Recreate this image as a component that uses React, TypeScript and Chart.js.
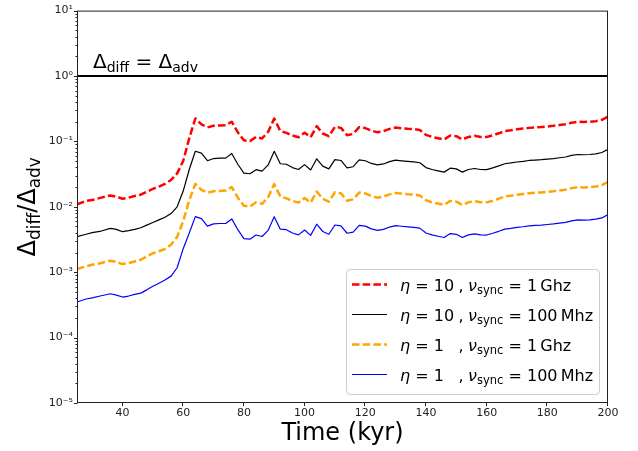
import React, { useEffect, useRef } from 'react';
import { Chart, registerables } from 'chart.js';

Chart.register(...registerables);

const FONT = '"DejaVu Sans", "Liberation Sans", sans-serif';

// Time (kyr)
const times = [
  25, 28, 30, 33, 36, 38, 40, 42, 44, 46, 48, 50, 52, 54, 56, 58, 60, 62,
  64, 66, 68, 70, 72, 74, 76, 78, 80, 82, 84, 86, 88, 90, 92, 94, 96, 98, 100,
  102, 104, 106, 108, 110, 112, 114, 116, 118, 120, 122, 124, 126, 128, 130,
  132, 134, 136, 138, 140, 142, 144, 146, 148, 150, 152, 154, 156, 158, 160,
  162, 164, 166, 168, 170, 172, 174, 176, 178, 180, 182, 184, 186, 188, 190,
  192, 194, 196, 198, 200,
];

// eta = 10, nu_sync = 1 GHz
const eta10Ghz1 = [
  0.0109, 0.0123, 0.0127, 0.0138, 0.0149, 0.0143, 0.0133, 0.0138, 0.0146, 0.0153, 0.0170, 0.0188, 0.0204, 0.0224, 0.0257, 0.0324, 0.0501, 0.112,
  0.224, 0.182, 0.164, 0.173, 0.175, 0.177, 0.200, 0.138, 0.104, 0.101, 0.117, 0.111, 0.140, 0.223, 0.144, 0.135, 0.123, 0.116, 0.136,
  0.116, 0.171, 0.132, 0.120, 0.167, 0.161, 0.124, 0.130, 0.165, 0.160, 0.146, 0.138, 0.143, 0.155, 0.163,
  0.159, 0.156, 0.154, 0.149, 0.126, 0.117, 0.112, 0.107, 0.123, 0.120, 0.107, 0.117, 0.122, 0.117, 0.117,
  0.124, 0.133, 0.144, 0.148, 0.153, 0.157, 0.161, 0.164, 0.166, 0.169, 0.173, 0.178, 0.183, 0.193, 0.200,
  0.198, 0.200, 0.204, 0.214, 0.240,
];

// eta = 10, nu_sync = 100 MHz
const eta10Mhz100 = [
  0.00349, 0.00380, 0.00402, 0.00426, 0.00467, 0.00451, 0.00416, 0.00431, 0.00452, 0.00479, 0.00525, 0.00575, 0.00631, 0.00692, 0.00787, 0.0100, 0.0174, 0.0372,
  0.0708, 0.0661, 0.0506, 0.0547, 0.0555, 0.0555, 0.0653, 0.0447, 0.0327, 0.0320, 0.0370, 0.0351, 0.0437, 0.0705, 0.0455, 0.0447, 0.0398, 0.0372, 0.0441,
  0.0366, 0.0542, 0.0419, 0.0380, 0.0527, 0.0511, 0.0394, 0.0410, 0.0521, 0.0506, 0.0460, 0.0437, 0.0452, 0.0490, 0.0516,
  0.0504, 0.0494, 0.0486, 0.0472, 0.0398, 0.0372, 0.0355, 0.0339, 0.0389, 0.0380, 0.0339, 0.0372, 0.0385, 0.0372, 0.0370,
  0.0394, 0.0422, 0.0455, 0.0468, 0.0484, 0.0495, 0.0511, 0.0519, 0.0526, 0.0536, 0.0547, 0.0562, 0.0578, 0.0610, 0.0631,
  0.0625, 0.0631, 0.0646, 0.0676, 0.0759,
];

// eta = 1, nu_sync = 1 GHz
const eta1Ghz1 = [
  0.00112, 0.00123, 0.00130, 0.00138, 0.00150, 0.00143, 0.00133, 0.00138, 0.00146, 0.00155, 0.00174, 0.00195, 0.00209, 0.00226, 0.00263, 0.00347, 0.00603, 0.0126,
  0.0224, 0.0182, 0.0164, 0.0173, 0.0175, 0.0177, 0.0200, 0.0138, 0.0104, 0.0101, 0.0117, 0.0111, 0.0140, 0.0223, 0.0144, 0.0135, 0.0123, 0.0116, 0.0136,
  0.0116, 0.0171, 0.0132, 0.0120, 0.0167, 0.0161, 0.0124, 0.0130, 0.0165, 0.0160, 0.0146, 0.0138, 0.0143, 0.0155, 0.0163,
  0.0159, 0.0156, 0.0154, 0.0149, 0.0126, 0.0117, 0.0112, 0.0107, 0.0123, 0.0120, 0.0107, 0.0117, 0.0122, 0.0117, 0.0117,
  0.0124, 0.0133, 0.0144, 0.0148, 0.0153, 0.0157, 0.0161, 0.0164, 0.0166, 0.0169, 0.0173, 0.0178, 0.0183, 0.0193, 0.0200,
  0.0198, 0.0200, 0.0204, 0.0214, 0.0240,
];

// eta = 1, nu_sync = 100 MHz
const eta1Mhz100 = [
  0.000350, 0.000389, 0.000406, 0.000437, 0.000468, 0.000447, 0.000417, 0.000432, 0.000457, 0.000479, 0.000537, 0.000611, 0.000676, 0.000759, 0.000871, 0.00117, 0.00229, 0.00398,
  0.00708, 0.00661, 0.00506, 0.00547, 0.00555, 0.00555, 0.00653, 0.00447, 0.00327, 0.00320, 0.00370, 0.00351, 0.00437, 0.00705, 0.00455, 0.00447, 0.00398, 0.00372, 0.00441,
  0.00366, 0.00542, 0.00419, 0.00380, 0.00527, 0.00511, 0.00394, 0.00410, 0.00521, 0.00506, 0.00460, 0.00437, 0.00452, 0.00490, 0.00516,
  0.00504, 0.00494, 0.00486, 0.00472, 0.00398, 0.00372, 0.00355, 0.00339, 0.00389, 0.00380, 0.00339, 0.00372, 0.00385, 0.00372, 0.00370,
  0.00394, 0.00422, 0.00455, 0.00468, 0.00484, 0.00495, 0.00511, 0.00519, 0.00526, 0.00536, 0.00547, 0.00562, 0.00578, 0.00610, 0.00631,
  0.00625, 0.00631, 0.00646, 0.00676, 0.00759,
];

// Delta_diff = Delta_adv reference line
const equalityTimes = [25, 200];
const equalityValues = [1, 1];

const xMin = 25;
const xMax = 200;
const xTickValues = [40, 60, 80, 100, 120, 140, 160, 180, 200];
const yTickExponents = [-5, -4, -3, -2, -1, 0, 1];
const xTitle = 'Time (kyr)';

const legendEta = ['10', '10', '1', '1'];
const legendNu = ['1', '100', '1', '100'];
const legendUnit = ['Ghz', 'Mhz', 'Ghz', 'Mhz'];

const seriesColors = ['#ff0000', '#000000', '#ffa500', '#0000ff'];
const seriesDashed = [true, false, true, false];

const SUP: Record<string, string> = {
  '-': '\u207B', '0': '\u2070', '1': '\u00B9', '2': '\u00B2', '3': '\u00B3',
  '4': '\u2074', '5': '\u2075', '6': '\u2076', '7': '\u2077', '8': '\u2078', '9': '\u2079',
};
const toSup = (s: string) => s.split('').map((c) => SUP[c] || c).join('');

type Run = { t: string; size: number; italic?: boolean; sub?: boolean; subBase?: number };

const fontOf = (r: Run) => `${r.italic ? 'italic ' : ''}${r.size}px ${FONT}`;

function runsWidth(ctx: CanvasRenderingContext2D, runs: Run[]) {
  let w = 0;
  for (const r of runs) {
    ctx.font = fontOf(r);
    w += ctx.measureText(r.t).width;
  }
  return w;
}

function drawRuns(ctx: CanvasRenderingContext2D, runs: Run[], x: number, y: number) {
  ctx.textAlign = 'left';
  ctx.textBaseline = 'alphabetic';
  for (const r of runs) {
    ctx.font = fontOf(r);
    const dy = r.sub ? (r.subBase || r.size) * 0.22 : 0;
    ctx.fillText(r.t, x, y + dy);
    x += ctx.measureText(r.t).width;
  }
  return x;
}

const overlayPlugin = {
  id: 'overlay',
  afterDraw(chart: any) {
    const ctx = chart.ctx as CanvasRenderingContext2D;
    const { left, right, top, bottom } = chart.chartArea;
    const xs = chart.scales.x;
    const ys = chart.scales.y;
    ctx.save();

    // frame
    ctx.strokeStyle = '#222';
    ctx.lineWidth = 1;
    ctx.strokeRect(left + 0.5, top + 0.5, right - left - 1, bottom - top - 1);

    // ticks
    ctx.beginPath();
    for (let e = yTickExponents[0]; e <= yTickExponents[yTickExponents.length - 1]; e++) {
      for (let m = 1; m < 10; m++) {
        const v = m * Math.pow(10, e);
        if (v > ys.max * 1.0001) break;
        const py = Math.round(ys.getPixelForValue(v)) + 0.5;
        const len = m === 1 ? 3.5 : 2;
        ctx.moveTo(left + 0.5 - len, py);
        ctx.lineTo(left + 0.5, py);
      }
    }
    for (const t of xTickValues) {
      const px = Math.round(xs.getPixelForValue(t)) - 0.5;
      ctx.moveTo(px, bottom - 0.5);
      ctx.lineTo(px, bottom + 3);
    }
    ctx.stroke();

    ctx.fillStyle = '#000';

    // x title
    ctx.font = `24px ${FONT}`;
    ctx.textAlign = 'center';
    ctx.textBaseline = 'alphabetic';
    ctx.fillText(xTitle, (left + right) / 2, 440);

    // y title
    const yRuns: Run[] = [
      { t: '\u0394', size: 24 },
      { t: 'diff', size: 17, sub: true, subBase: 24 },
      { t: '/', size: 24 },
      { t: '\u0394', size: 24 },
      { t: 'adv', size: 17, sub: true, subBase: 24 },
    ];
    const yw = runsWidth(ctx, yRuns);
    ctx.save();
    ctx.translate(35, (top + bottom) / 2);
    ctx.rotate(-Math.PI / 2);
    drawRuns(ctx, yRuns, -yw / 2, 0);
    ctx.restore();

    // annotation above the equality line
    const annRuns: Run[] = [
      { t: '\u0394', size: 20 },
      { t: 'diff', size: 14, sub: true, subBase: 20 },
      { t: ' = ', size: 20 },
      { t: '\u0394', size: 20 },
      { t: 'adv', size: 14, sub: true, subBase: 20 },
    ];
    drawRuns(ctx, annRuns, left + 16, ys.getPixelForValue(1) - 8);

    // legend
    const bx = 346.5, by = 269.5, bw = 253, bh = 125;
    ctx.beginPath();
    (ctx as any).roundRect(bx, by, bw, bh, 4);
    ctx.fillStyle = 'rgba(255,255,255,0.8)';
    ctx.fill();
    ctx.strokeStyle = '#cccccc';
    ctx.lineWidth = 1;
    ctx.stroke();

    chart.data.datasets.slice(0, 4).forEach((ds: any, i: number) => {
      const ry = by + 15 + i * 30;
      ctx.save();
      ctx.strokeStyle = ds.borderColor;
      ctx.lineWidth = ds.borderWidth;
      ctx.setLineDash(ds.borderDash || []);
      ctx.beginPath();
      ctx.moveTo(352, ry);
      ctx.lineTo(387, ry);
      ctx.stroke();
      ctx.restore();
      ctx.fillStyle = '#000';
      const base = ry + 6;
      drawRuns(ctx, [
        { t: '\u03B7', size: 16, italic: true },
        { t: ' = ' + legendEta[i], size: 16 },
      ], 400, base);
      drawRuns(ctx, [
        { t: ',', size: 16 },
        { t: ' ', size: 14 },
        { t: '\u03BD', size: 16, italic: true },
        { t: 'sync', size: 11.5, sub: true, subBase: 16 },
        { t: ' = ' + legendNu[i] + '\u2009' + legendUnit[i], size: 16 },
      ], 458.5, base);
    });

    ctx.restore();
  },
};

export default function App() {
  const canvasRef = useRef<HTMLCanvasElement | null>(null);

  useEffect(() => {
    document.body.style.margin = '0';
    const canvas = canvasRef.current;
    if (!canvas) return;
    const series = [eta10Ghz1, eta10Mhz100, eta1Ghz1, eta1Mhz100];
    const datasets: any[] = series.map((vals, i) => ({
      label: `s${i}`,
      data: times.map((t, k) => ({ x: t, y: vals[k] })),
      borderColor: seriesColors[i],
      backgroundColor: seriesColors[i],
      borderWidth: seriesDashed[i] ? 2.5 : 1.2,
      borderDash: seriesDashed[i] ? [7.5, 3.2] : [],
      pointRadius: 0,
      tension: 0,
      fill: false,
      borderJoinStyle: 'round',
    }));
    datasets.push({
      label: 'equality',
      data: equalityTimes.map((t, k) => ({ x: t, y: equalityValues[k] })),
      borderColor: '#000',
      borderWidth: 2,
      pointRadius: 0,
      fill: false,
    });

    const chart = new Chart(canvas, {
      type: 'line',
      data: { datasets },
      options: {
        animation: false,
        responsive: false,
        devicePixelRatio: 1,
        layout: { padding: { top: 7, right: 30, left: 0, bottom: 0 } },
        plugins: { legend: { display: false }, tooltip: { enabled: false } },
        scales: {
          x: {
            type: 'linear',
            min: xMin,
            max: xMax,
            grid: { display: false, drawTicks: false },
            border: { display: false },
            afterBuildTicks: (scale: any) => {
              scale.ticks = xTickValues.map((v) => ({ value: v }));
            },
            afterFit: (scale: any) => {
              scale.height = 48;
            },
            ticks: {
              padding: 4,
              color: '#222',
              font: { family: FONT, size: 11 },
              maxRotation: 0,
              callback: (v: any) => String(v),
            },
          },
          y: {
            type: 'logarithmic',
            min: 1e-5,
            max: 10,
            grid: { display: false, drawTicks: false },
            border: { display: false },
            afterBuildTicks: (scale: any) => {
              scale.ticks = yTickExponents.map((e) => ({ value: Math.pow(10, e) }));
            },
            afterFit: (scale: any) => {
              scale.width = 77;
            },
            ticks: {
              padding: 4,
              color: '#222',
              font: { family: FONT, size: 11 },
              callback: (v: any) => '10' + toSup(String(Math.round(Math.log10(Number(v))))),
            },
          },
        },
      } as any,
      plugins: [overlayPlugin],
    });
    return () => chart.destroy();
  }, []);

  return (
    <div style={{ width: 638, height: 451 }}>
      <canvas ref={canvasRef} width={638} height={451} />
    </div>
  );
}
